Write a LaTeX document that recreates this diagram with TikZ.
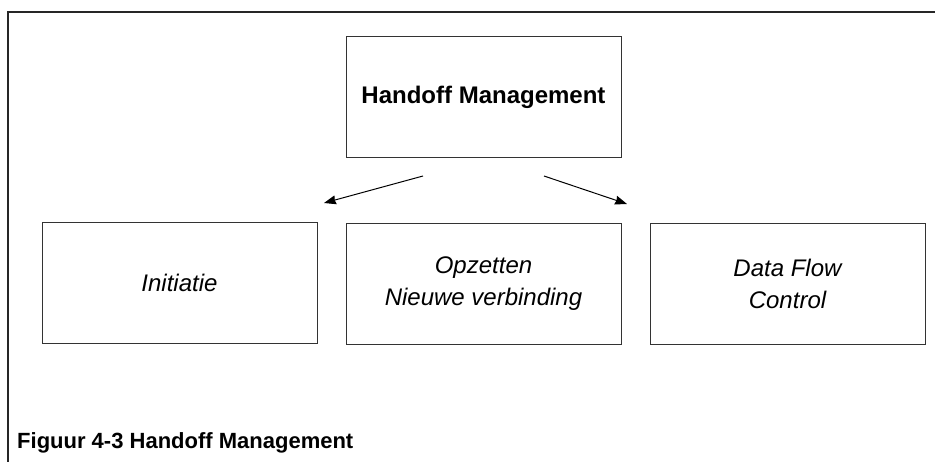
\documentclass[tikz,border=0pt]{standalone}
\usepackage{fontspec}
\setmainfont{Liberation Sans}
\usetikzlibrary{arrows.meta}

\begin{document}
\begin{tikzpicture}[x=1pt, y=-1pt,
    blok/.style={draw=black!80, line width=1pt, minimum width=275pt, minimum height=121pt,
      inner sep=0pt, align=center, font=\fontsize{24}{32}\selectfont\itshape}]
    \useasboundingbox (0,0) rectangle (935,462);
    % frame
    \draw [line width=1.4pt, black!85] (935,12) -- (8,12) -- (8,462);
    \node (hm) at (483.5,97.5) [blok, font=\fontsize{24}{32}\selectfont\bfseries] {Handoff Management};
    \node (init) at (179.5,283) [blok] {Initiatie};
    \node (opz) at (483.5,284) [blok] {Opzetten\\Nieuwe verbinding};
    \node (dfc) at (787.5,284) [blok] {Data Flow\\Control};
    \coordinate (la) at (423,176);
    \coordinate (lb) at (324,203);
    \coordinate (ra) at (544,176);
    \coordinate (rb) at (627,204);
    \draw [->, >={Stealth[length=12pt, width=9pt, inset=1pt]}, line width=1pt] (la) -- (lb);
    \draw [->, >={Stealth[length=12pt, width=9pt, inset=1pt]}, line width=1pt] (ra) -- (rb);
    \node (cap) at (17,448) [anchor=base west, inner sep=0pt, font=\fontsize{22}{26}\selectfont\bfseries] {Figuur 4-3 Handoff Management};
\end{tikzpicture}
\end{document}
